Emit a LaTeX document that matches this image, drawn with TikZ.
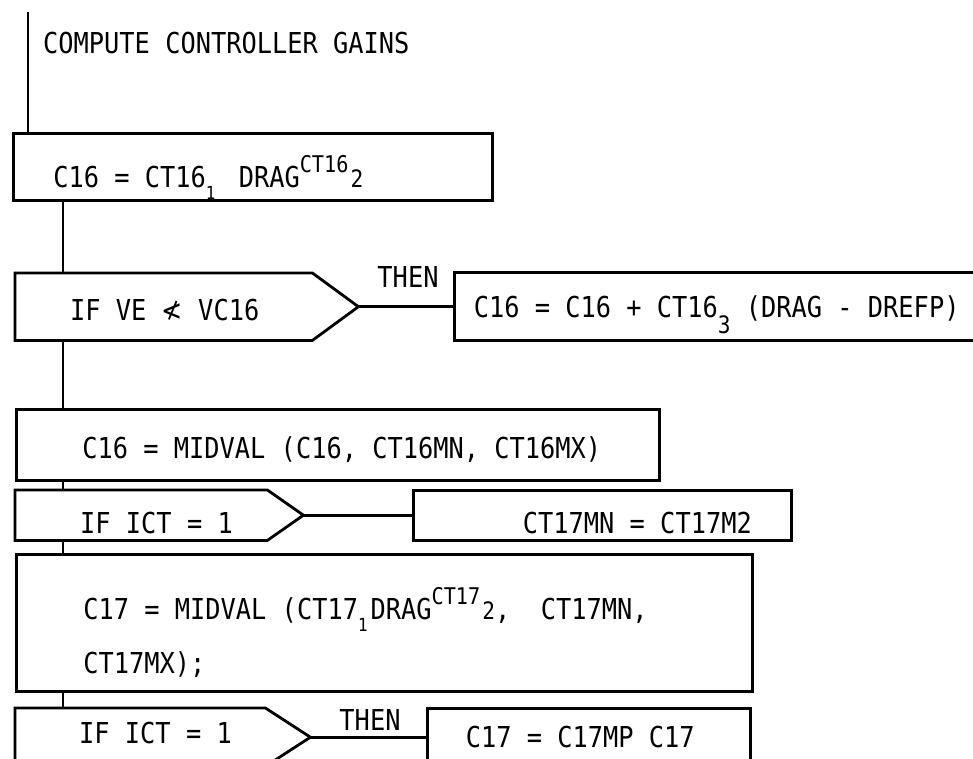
\documentclass[tikz,border=0pt]{standalone}
\usepackage{fontspec}
\newfontfamily\flowfont[FakeStretch=0.88]{DejaVu Sans Mono}
\newfontfamily\symfont[FakeStretch=0.88]{DejaVu Sans}
\usetikzlibrary{positioning}
\tikzset{
	flow/.style = {line width=2.8pt},
	stmt/.style = {draw, line width=2.8pt, anchor=north west, align=left, inner ysep=0pt, text height=21pt, text depth=0pt, execute at begin node={\spaceskip=0pt\relax}},
	test/.style = {anchor=north west, align=left, inner ysep=0pt, text height=21pt, text depth=0pt, execute at begin node={\spaceskip=0pt\relax}},
	thenlabel/.style = {inner sep=0pt, text height=21pt, text depth=0pt}
}
\newcommand{\subtxt}[1]{\raisebox{-0.4em}{\fontsize{18}{18}\selectfont #1}}
\newcommand{\suptxt}[1]{\raisebox{0.55em}{\fontsize{23}{23}\selectfont #1}}
\newcommand{\tailtxt}[1]{\hspace{2pt}{\fontsize{24}{24}\selectfont #1}}

\begin{document}
\begin{tikzpicture}[x=1pt, y=-1pt, font=\flowfont\fontsize{28.8}{34}\selectfont]
	\useasboundingbox (0,0) rectangle (973,759);
	\coordinate (top) at (28,12);
	\coordinate (spine) at (63,0);
	
	\node [anchor=west, inner sep=0pt, text height=21pt, text depth=0pt] (title) at (43,43) {COMPUTE CONTROLLER GAINS};
	
	\node [stmt, text width=399pt, inner xsep=40pt, minimum height=67pt, text height=42pt] (b1) at (12,132) {\mbox{C16 = CT16\subtxt{1}\hspace{8pt} DRAG\suptxt{CT16}\tailtxt{2}}};
	
	\node [test, text width=233pt, inner xsep=55pt, minimum height=67pt, text height=28pt] (d1) at (15,273) {IF VE {\symfont ≮} VC16};
	\node [stmt, right=95pt of d1, text width=497pt, inner xsep=19pt, minimum height=68pt] (b2) {\mbox{C16 = C16 + CT16\raisebox{-0.55em}{\fontsize{24}{24}\selectfont 3} (DRAG - DREFP)}};
	\node [thenlabel] (then1) at (408,277) {THEN};
	
	\node [stmt, text width=511pt, inner xsep=66pt, minimum height=71pt, text height=28pt] (b3) at (15,408) {\mbox{C16 = MIDVAL (C16, CT16MN, CT16MX)}};
	
	\node [test, text width=158pt, inner xsep=65pt, minimum height=50pt, text height=37pt] (d2) at (15,490) {\mbox{IF ICT = 1}};
	\node [stmt, right=109pt of d2, align=right, text width=298pt, inner xsep=40pt, minimum height=50pt, text height=37pt] (b4) {\mbox{CT17MN = CT17M2}};
	
	\node [stmt, text width=602pt, inner xsep=67pt, minimum height=137pt, text depth=27pt] (b5) at (15,553) {\mbox{C17 = MIDVAL (CT17\subtxt{1}\hspace{3pt}DRAG\suptxt{CT17}\tailtxt{2},\ \ CT17MN,}\\[20pt] CT17MX);};
	
	\node [test, text width=167pt, inner xsep=64pt, minimum height=58pt, text depth=8pt] (d3) at (15,708) {\mbox{IF ICT = 1}};
	\node [stmt, right=116pt of d3, text width=247pt, inner xsep=38pt, minimum height=58pt] (b6) {C17 = C17MP C17};
	\node [thenlabel] (then2) at (370,720) {THEN};
	
	% decision outlines
	\draw [flow] (d1.north west) -- ([xshift=-46pt]d1.north east) -- (d1.east) -- ([xshift=-46pt]d1.south east) -- (d1.south west) -- cycle;
	\draw [flow] (d2.north west) -- ([xshift=-36pt]d2.north east) -- (d2.east) -- ([xshift=-36pt]d2.south east) -- (d2.south west) -- cycle;
	\draw [flow] (d3.north west) -- ([xshift=-45pt]d3.north east) -- (d3.east) -- ([xshift=-45pt]d3.south east) -- (d3.south west) -- cycle;
	
	% connectors
	\draw [flow] (top) -- (top |- b1.north);
	\draw [flow] (b1.south -| spine) -- (d1.north -| spine);
	\draw [flow] (d1.south -| spine) -- (b3.north -| spine);
	\draw [flow] (b3.south -| spine) -- (d2.north -| spine);
	\draw [flow] (d2.south -| spine) -- (b5.north -| spine);
	\draw [flow] (b5.south -| spine) -- (d3.north -| spine);
	\draw [flow] (d1.east) -- (b2.west);
	\draw [flow] (d2.east) -- (b4.west);
	\draw [flow] (d3.east) -- (b6.west);
\end{tikzpicture}
\end{document}
